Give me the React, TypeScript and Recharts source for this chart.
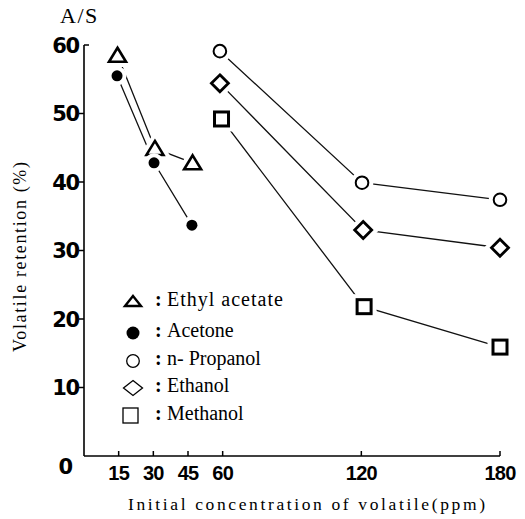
import React from 'react';
import { LineChart, Line, XAxis, YAxis, Customized } from 'recharts';

const xTicks = [15, 30, 45, 60, 120, 180];
const yTicks = [0, 10, 20, 30, 40, 50, 60];

const ethylAcetateX = [14.5, 30.7, 47];
const ethylAcetateY = [58.5, 44.9, 42.8];
const acetoneX = [14.3, 30.3, 46.7];
const acetoneY = [55.5, 42.8, 33.7];
const propanolX = [58.8, 120.3, 180];
const propanolY = [59.1, 39.9, 37.4];
const ethanolX = [58.8, 120.8, 180];
const ethanolY = [54.4, 33.0, 30.4];
const methanolX = [59.5, 121.2, 180];
const methanolY = [49.2, 21.8, 15.9];

const seriesNames = ['Ethyl acetate', 'Acetone', 'n- Propanol', 'Ethanol', 'Methanol'];
const seriesKinds = ['triangle', 'dot', 'circle', 'diamond', 'square'];

const toData = (xs: number[], ys: number[]) => xs.map((x, i) => ({ x, y: ys[i] }));

const series = [
  { name: seriesNames[0], kind: seriesKinds[0], data: toData(ethylAcetateX, ethylAcetateY) },
  { name: seriesNames[1], kind: seriesKinds[1], data: toData(acetoneX, acetoneY) },
  { name: seriesNames[2], kind: seriesKinds[2], data: toData(propanolX, propanolY) },
  { name: seriesNames[3], kind: seriesKinds[3], data: toData(ethanolX, ethanolY) },
  { name: seriesNames[4], kind: seriesKinds[4], data: toData(methanolX, methanolY) },
];

const SERIF = "'Liberation Serif', 'Times New Roman', Times, Tinos, 'DejaVu Serif', 'Noto Serif', FreeSerif, serif";
const SANS = "'Liberation Sans', Arial, sans-serif";
const serifStyle = { fontFamily: SERIF };

function shape(kind: string, cx: number, cy: number, stroke: string, fill: string, sw: number) {
  switch (kind) {
    case 'triangle':
      return (
        <path
          d={`M${cx},${cy - 7.5} L${cx + 8.5},${cy + 6.5} L${cx - 8.5},${cy + 6.5} Z`}
          stroke={stroke}
          strokeWidth={sw}
          fill={fill}
          strokeLinejoin="miter"
        />
      );
    case 'dot':
      return <circle cx={cx} cy={cy} r={5.5} stroke={stroke} strokeWidth={sw - 2.6} fill={stroke === '#fff' ? '#fff' : '#000'} />;
    case 'circle':
      return <circle cx={cx} cy={cy} r={6.3} stroke={stroke} strokeWidth={sw - 0.6} fill={fill} />;
    case 'diamond':
      return (
        <path
          d={`M${cx},${cy - 8.5} L${cx + 8.5},${cy} L${cx},${cy + 8.5} L${cx - 8.5},${cy} Z`}
          stroke={stroke}
          strokeWidth={sw + 0.2}
          fill={fill}
        />
      );
    default:
      return <rect x={cx - 7} y={cy - 7} width={14} height={14} stroke={stroke} strokeWidth={sw + 0.4} fill={fill} />;
  }
}

const makeDot = (kind: string) => (props: any) => {
  const { cx, cy, index } = props;
  if (cx == null || cy == null) return <g key={`d-${kind}-${index}`} />;
  return (
    <g key={`d-${kind}-${index}`}>
      {shape(kind, cx, cy, '#fff', '#fff', 2.6 + 8)}
      {shape(kind, cx, cy, '#000', '#fff', 2.6)}
    </g>
  );
};

const XTick = (props: any) => {
  const { x, y, payload } = props;
  return (
    <g>
      <line x1={x} x2={x} y1={y} y2={y - 5} stroke="#000" strokeWidth={1.5} />
      <text
        x={x}
        y={y + 24}
        textAnchor="middle"
        style={{ fontFamily: SANS, fontWeight: 'bold', fontSize: 20, letterSpacing: -0.8 }}
        fill="#000"
      >
        {payload.value}
      </text>
    </g>
  );
};

const YTick = (props: any) => {
  const { x, y, payload } = props;
  const v = payload.value;
  const isZero = v === 0;
  return (
    <g>
      {!isZero &&
        (v === 60 ? (
          <line x1={x} x2={x + 5} y1={y} y2={y} stroke="#000" strokeWidth={1.5} />
        ) : (
          <line x1={x - 5} x2={x} y1={y} y2={y} stroke="#000" strokeWidth={1.5} />
        ))}
      <text
        x={isZero ? x - 12 : x - 5}
        y={isZero ? y + 10 : y}
        dy="0.36em"
        textAnchor="end"
        style={{ fontFamily: "'DejaVu Sans', sans-serif", fontWeight: 'bold', fontSize: 21, letterSpacing: -1.2 }}
        fill="#000"
      >
        {v}
      </text>
    </g>
  );
};

const legendRows = [301, 333, 361, 388, 415.5];
const legendBaselines = [306, 337, 365, 392, 420];

function legendSymbol(kind: string, cx: number, cy: number) {
  switch (kind) {
    case 'triangle':
      return <path d={`M${cx},${cy - 5} L${cx + 8},${cy + 5} L${cx - 8},${cy + 5} Z`} stroke="#000" strokeWidth={2.4} fill="#fff" />;
    case 'dot':
      return <circle cx={cx} cy={cy} r={6.5} fill="#000" />;
    case 'circle':
      return <circle cx={cx} cy={cy} r={6.3} stroke="#000" strokeWidth={1.3} fill="#fff" />;
    case 'diamond':
      return <path d={`M${cx},${cy - 7.5} L${cx + 9.5},${cy} L${cx},${cy + 7.5} L${cx - 9.5},${cy} Z`} stroke="#000" strokeWidth={1.3} fill="#fff" />;
    default:
      return <rect x={cx - 10} y={cy - 7.5} width={15} height={15} stroke="#000" strokeWidth={1.3} fill="#fff" />;
  }
}

const Annotations = () => (
  <g>
    <text x={60} y={23} style={{ ...serifStyle, fontSize: 22, letterSpacing: 1.5 }} fill="#000">
      A/S
    </text>
    <text
      x={26}
      y={257}
      transform="rotate(-90, 26, 257)"
      textAnchor="middle"
      style={{ ...serifStyle, fontSize: 18 }}
      textLength={190}
      lengthAdjust="spacing"
      fill="#000"
    >
      Volatile retention (%)
    </text>
    <text x={128} y={510} style={{ ...serifStyle, fontSize: 17.5 }} textLength={357} lengthAdjust="spacing" fill="#000">
      Initial concentration of volatile(ppm)
    </text>
    {series.map((s, i) => (
      <g key={`lg-${s.name}`}>
        {legendSymbol(s.kind, 133, legendRows[i])}
        <text x={155} y={legendBaselines[i]} style={{ ...serifStyle, fontSize: 20, fontWeight: 'bold' }} fill="#000">
          :
        </text>
        <text
          x={167}
          y={legendBaselines[i]}
          style={{ ...serifStyle, fontSize: 20, letterSpacing: i === 0 ? 1 : 0 }}
          fill="#000"
        >
          {s.name}
        </text>
      </g>
    ))}
  </g>
);

export default function App() {
  return (
    <div style={{ position: 'absolute', left: 0, top: 0, width: 525, height: 519, background: '#fff', fontFamily: SERIF }}>
      <LineChart width={525} height={519} margin={{ top: 45, right: 25, bottom: 23, left: 24 }}>
        <XAxis
          type="number"
          dataKey="x"
          domain={[0, 180]}
          ticks={xTicks}
          interval={0}
          tickSize={0}
          tickMargin={0}
          tickLine={false}
          tick={(p: any) => <XTick {...p} />}
          axisLine={{ stroke: '#000', strokeWidth: 1.5 }}
          height={40}
        />
        <YAxis
          type="number"
          dataKey="y"
          domain={[0, 60]}
          ticks={yTicks}
          interval={0}
          tickSize={0}
          tickMargin={0}
          tickLine={false}
          tick={(p: any) => <YTick {...p} />}
          axisLine={{ stroke: '#000', strokeWidth: 1.6 }}
          width={60}
        />
        {series.map((s) => (
          <Line
            key={`line-${s.name}`}
            data={s.data}
            dataKey="y"
            type="linear"
            stroke="#111"
            strokeWidth={1.3}
            dot={false}
            activeDot={false}
            isAnimationActive={false}
            legendType="none"
          />
        ))}
        {series.map((s) => (
          <Line
            key={`mark-${s.name}`}
            data={s.data}
            dataKey="y"
            type="linear"
            stroke="none"
            dot={makeDot(s.kind)}
            activeDot={false}
            isAnimationActive={false}
            legendType="none"
          />
        ))}
        <Customized component={Annotations} />
      </LineChart>
    </div>
  );
}
